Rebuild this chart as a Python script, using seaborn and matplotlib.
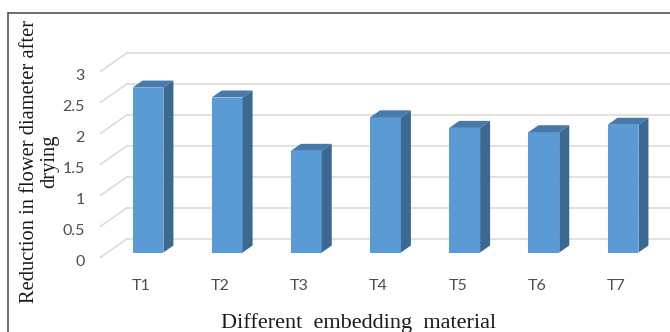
import matplotlib
matplotlib.use("Agg")
import matplotlib.pyplot as plt
import matplotlib.transforms as mtransforms
from matplotlib.lines import Line2D
from matplotlib.patches import Polygon
import pandas as pd
import seaborn as sns

# Data
materials = ["T1", "T2", "T3", "T4", "T5", "T6", "T7"]
reduction = [2.66, 2.50, 1.64, 2.18, 2.01, 1.94, 2.06]
y_ticks = [0, 0.5, 1, 1.5, 2, 2.5, 3]
y_tick_labels = ["0", "0.5", "1", "1.5", "2", "2.5", "3"]

df = pd.DataFrame({"material": materials, "reduction": reduction})

# Colours
FRONT = "#5b9bd5"
SIDE = "#3c6992"
TOP = "#4779ad"
GRID = "#d9d9d9"
TICK = "#4d4d4d"

sns.set_theme(style="white")
plt.rcParams["font.family"] = ["Lato", "DejaVu Sans"]

W, H, DPI = 670, 332, 100
fig = plt.figure(figsize=(W / DPI, H / DPI), dpi=DPI)

# Axes = front plane of the columns (pixel geometry of the plot area)
x_left, x_right = 108.4, 662.6
y_zero, px_per_unit = 252.5, 62.0
y_top = y_zero - 3 * px_per_unit
ax = fig.add_axes([x_left / W, (H - y_zero) / H,
                   (x_right - x_left) / W, (y_zero - y_top) / H])

sns.barplot(data=df, x="material", y="reduction", color=FRONT,
            saturation=1, width=0.39, edgecolor="none", linewidth=0,
            ax=ax, zorder=3)
ax.set_xlim(-0.5, 6.5)
ax.set_ylim(0, 3)
for s in ax.spines.values():
    s.set_visible(False)
ax.set_facecolor("none")


def px_to_data(dx_px, dy_px):
    """Convert a pixel displacement into data units of the axes."""
    inv = ax.transData.inverted()
    o = ax.transData.transform((0, 0))
    p = inv.transform((o[0] + dx_px, o[1] + dy_px))
    return p[0], p[1]


# Depth offsets (pixels): back wall, front edge of floor, column depth
bx, by = px_to_data(19, 14)
fx, fy = px_to_data(-8, -5)
cx, cy = px_to_data(10, 7)

# Back wall and side wall gridlines
for v in y_ticks:
    ax.add_line(Line2D([-0.5 + bx, 6.5 + bx], [v + by, v + by],
                       color=GRID, lw=1.1, zorder=0.5, clip_on=False))
    ax.add_line(Line2D([-0.5 + fx, -0.5 + bx], [v + fy, v + by],
                       color=GRID, lw=1.1, zorder=0.5, clip_on=False))

# Side and top faces of each column
for p in ax.patches[:len(materials)]:
    x0 = p.get_x()
    w = p.get_width()
    h = p.get_height()
    side = [(x0 + w, 0), (x0 + w, h), (x0 + w + cx, h + cy), (x0 + w + cx, cy)]
    top = [(x0, h), (x0 + w, h), (x0 + w + cx, h + cy), (x0 + cx, h + cy)]
    ax.add_patch(Polygon(side, closed=True, facecolor=SIDE, edgecolor="none",
                         zorder=3, clip_on=False))
    ax.add_patch(Polygon(top, closed=True, facecolor=TOP, edgecolor="none",
                         zorder=3, clip_on=False))

# Tick labels
ax.set_yticks(y_ticks, y_tick_labels)
ax.tick_params(axis="y", length=0, pad=(x_left - 85) * 72 / DPI,
               labelsize=11.5, labelcolor=TICK)
ax.tick_params(axis="x", length=0, pad=26 * 72 / DPI,
               labelsize=11.5, labelcolor=TICK)
ax.set_xticks(range(len(materials)), materials)
ydown = mtransforms.ScaledTranslation(0, -8 / DPI, fig.dpi_scale_trans)
xleft = mtransforms.ScaledTranslation(-7 / DPI, 0, fig.dpi_scale_trans)
for lab in ax.get_yticklabels():
    lab.set_transform(lab.get_transform() + ydown)
for lab in ax.get_xticklabels():
    lab.set_transform(lab.get_transform() + xleft)

# Axis titles
serif = ["Liberation Serif", "DejaVu Serif"]
ax.set_ylabel("Reduction in flower diameter after\ndrying",
              family=serif, fontsize=14.8, color="#1a1a1a", linespacing=1.1)
ax.yaxis.set_label_coords((59 - x_left) / (x_right - x_left),
                          (y_zero - 161) / (y_zero - y_top))
ax.set_xlabel("Different  embedding  material", family=serif,
              fontsize=16, color="#1a1a1a")
ax.xaxis.set_label_coords((358.5 - x_left) / (x_right - x_left),
                          (y_zero - 313) / (y_zero - y_top))

# Chart border
fig.add_artist(Line2D([8 / W, 8 / W], [0, (H - 13) / H], color="#555555",
                      lw=1.2, transform=fig.transFigure))
fig.add_artist(Line2D([8 / W, 1.0], [(H - 13) / H, (H - 13) / H],
                      color="#555555", lw=1.2, transform=fig.transFigure))

fig.savefig("out.png", dpi=DPI, facecolor="white")
